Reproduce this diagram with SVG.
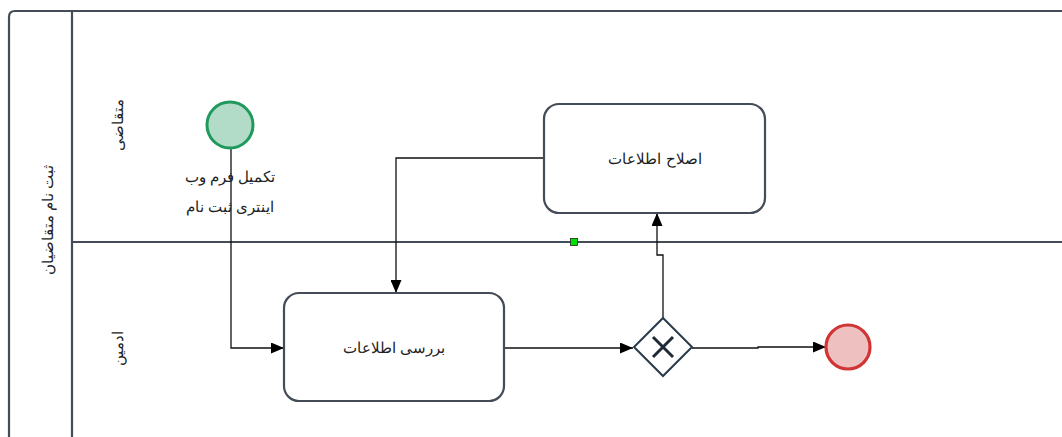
<svg xmlns="http://www.w3.org/2000/svg" width="1062" height="437" viewBox="0 0 1062 437">
<style>
.pool{fill:none;stroke:#444c57;stroke-width:2.2}
.task rect{fill:#ffffff;stroke:#444c57;stroke-width:2.2}
.lbl{font-family:"Liberation Sans","Noto Sans",sans-serif;font-size:15px;fill:#222;text-anchor:middle;dominant-baseline:central}
.edge{fill:none;stroke:#111;stroke-width:1.3}
</style>
<defs>
<marker id="arr" viewBox="0 0 13 11" refX="13" refY="5.5" markerWidth="13" markerHeight="11" markerUnits="userSpaceOnUse" orient="auto">
<path d="M0,0 L13,5.5 L0,11 Z" fill="#000"/>
</marker>
</defs>
<rect width="1062" height="437" fill="#ffffff"/>
<g id="pool">
<path class="pool" d="M9,445 L9,17 Q9,11 15,11 L1070,11"/>
<line class="pool" x1="72" y1="11" x2="72" y2="445"/>
<line class="pool" x1="72" y1="242" x2="1070" y2="242"/>
<text class="lbl" transform="translate(47,220) rotate(-90)">ثبت نام متقاضیان</text>
</g>
<g id="lane-applicant">
<text class="lbl" transform="translate(117,125) rotate(-90)">متقاضی</text>
</g>
<g id="lane-admin">
<text class="lbl" transform="translate(117,348) rotate(-90)">ادمین</text>
</g>
<g id="connectors">
<path class="edge" d="M231,148 L231,348 L284,348" marker-end="url(#arr)"/>
<path class="edge" d="M504,348 L633,348" marker-end="url(#arr)"/>
<path class="edge" d="M663,318 L663,255 L657,255 L657,213" marker-end="url(#arr)"/>
<path class="edge" d="M544,158 L396,158 L396,293" marker-end="url(#arr)"/>
<path class="edge" d="M692,348 L758,348 L758,347 L826,347" marker-end="url(#arr)"/>
</g>
<g id="start">
<circle cx="230" cy="125" r="23" fill="#b3dcc8" stroke="#1f9a5c" stroke-width="3"/>
<text class="lbl" x="230" y="176">تکمیل فرم وب</text>
<text class="lbl" x="230" y="206">اینتری ثبت نام</text>
</g>
<g id="task-fix" class="task">
<rect x="544" y="104" width="221" height="109" rx="15"/>
<text class="lbl" x="655" y="158">اصلاح اطلاعات</text>
</g>
<g id="task-review" class="task">
<rect x="284" y="293" width="220" height="108" rx="15"/>
<text class="lbl" x="394" y="347">بررسی اطلاعات</text>
</g>
<g id="gateway">
<path d="M663,318 L692,347 L663,376 L634,347 Z" fill="#ffffff" stroke="#2a3a4a" stroke-width="2"/>
<path d="M653,337 L673,357 M673,337 L653,357" stroke="#1e2a36" stroke-width="3"/>
</g>
<g id="end">
<circle cx="848" cy="347" r="22" fill="#efc0c0" stroke="#d03434" stroke-width="3.2"/>
</g>
<rect x="570.5" y="238.5" width="7" height="7" fill="#00e000" stroke="#222" stroke-width="0.8"/>
</svg>
